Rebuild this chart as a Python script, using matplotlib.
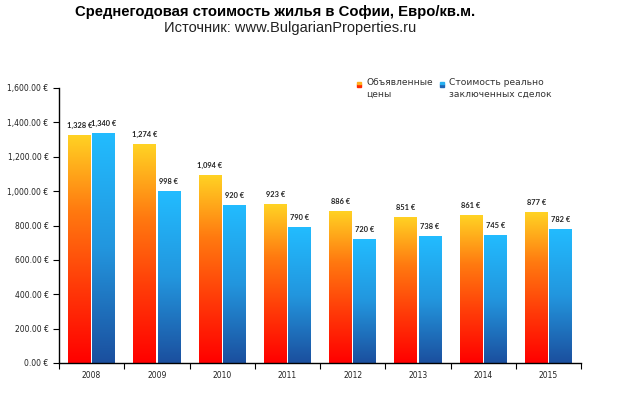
import matplotlib
matplotlib.use("Agg")
import matplotlib.pyplot as plt
import numpy as np
from matplotlib.colors import LinearSegmentedColormap
from matplotlib.ticker import FuncFormatter, FixedLocator
from matplotlib.patches import Rectangle

years = ["2008", "2009", "2010", "2011", "2012", "2013", "2014", "2015"]
asked = [1328, 1274, 1094, 923, 886, 851, 861, 877]
actual = [1340, 998, 920, 790, 720, 738, 745, 782]
series_names = ["Объявленные\nцены", "Стоимость реально\nзаключенных сделок"]
title = "Среднегодовая стоимость жилья в Софии, Евро/кв.м."
subtitle = "Источник: www.BulgarianProperties.ru"

W, H = 627, 398
fig = plt.figure(figsize=(W / 100, H / 100), dpi=100)
ax = fig.add_axes([59 / W, 35 / H, (581 - 59) / W, (363 - 88) / H])

cmap_o = LinearSegmentedColormap.from_list("o", ["#ff0000", "#ff3a08", "#ff7a10", "#ffd324"])
cmap_b = LinearSegmentedColormap.from_list("b", ["#1b4f9e", "#2396de", "#22bcff"])

x = np.arange(len(years))
bw = 0.35
gap = 0.02
grad = np.linspace(0, 1, 256).reshape(-1, 1)

def gbars(xs, vals, cmap):
    bars = ax.bar(xs, vals, width=bw, color="none", edgecolor="none", zorder=2)
    for b in bars:
        x0, y0 = b.get_x(), b.get_y()
        im = ax.imshow(grad, cmap=cmap, origin="lower", aspect="auto",
                       extent=[x0, x0 + b.get_width(), y0, y0 + b.get_height()], zorder=2)
        im.set_clip_path(b)
    return bars

xo = x - bw / 2 - gap / 2
xb = x + bw / 2 + gap / 2
gbars(xo, asked, cmap_o)
gbars(xb, actual, cmap_b)

for xs, vals in ((xo, asked), (xb, actual)):
    for xi, v in zip(xs, vals):
        ax.text(xi, v + 35, f"{v:,} €", ha="center", va="bottom", fontsize=5.4, fontweight="bold",
                family="Lato", color="#222222")

ax.set_xlim(-0.5, len(years) - 0.5)
ax.set_ylim(0, 1600)
ax.set_yticks(np.arange(0, 1601, 200))
ax.yaxis.set_major_formatter(FuncFormatter(lambda v, p: f"{v:,.2f} €"))
ax.set_xticks(x)
ax.set_xticklabels(years)
ax.xaxis.set_minor_locator(FixedLocator(np.arange(-0.5, len(years), 1.0)))
ax.tick_params(axis="x", which="major", length=0, pad=6, labelsize=5.5, labelcolor="#222222")
ax.tick_params(axis="x", which="minor", length=4, width=0.8, direction="out")
ax.tick_params(axis="y", which="major", length=4, width=0.8, direction="out", labelsize=5.5,
               labelcolor="#222222")
for lab in ax.get_xticklabels() + ax.get_yticklabels():
    lab.set_family("DejaVu Sans")
for s in ["top", "right"]:
    ax.spines[s].set_visible(False)
for s in ["left", "bottom"]:
    ax.spines[s].set_linewidth(1.0)
    ax.spines[s].set_color("black")

fig.text(275 / W, 1 - 16 / H, title, ha="center", va="baseline", fontsize=10.7,
         fontweight="bold", family="Liberation Sans")
fig.text(290 / W, 1 - 32 / H, subtitle, ha="center", va="baseline", fontsize=10.5,
         family="Liberation Sans", color="#222222")

# legend
lx = [357, 440]
lcols = [("#ff2a00", "#ffb020"), ("#1f66b5", "#28b0f0")]
for (px, name, (c1, c2)) in zip(lx, series_names, lcols):
    fig.patches.append(Rectangle((px / W, 1 - 87 / H), 4 / W, 3 / H, color=c1,
                                 transform=fig.transFigure, figure=fig))
    fig.patches.append(Rectangle((px / W, 1 - 84 / H), 4 / W, 2 / H, color=c2,
                                 transform=fig.transFigure, figure=fig))
    fig.text((px + 9) / W, 1 - 78 / H, name, ha="left", va="top", fontsize=6.6,
             family="DejaVu Sans", color="#333333", linespacing=1.35)

fig.savefig("out.png", dpi=100)
